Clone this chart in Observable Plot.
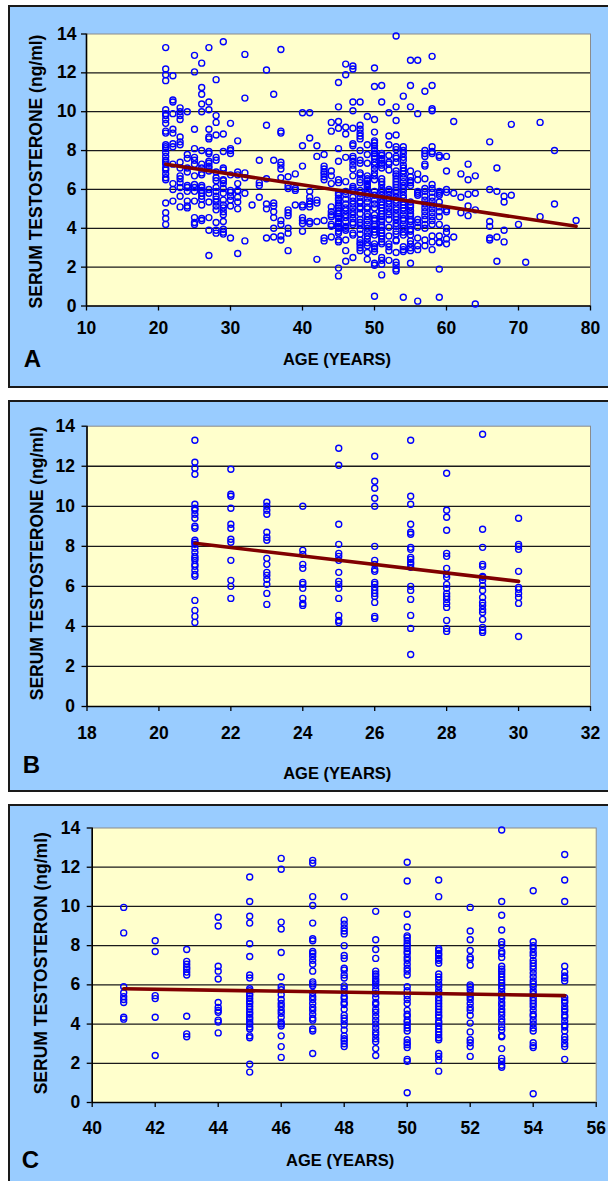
<!DOCTYPE html>
<html><head><meta charset="utf-8">
<script src="https://cdn.jsdelivr.net/npm/d3@7"></script>
<script src="https://cdn.jsdelivr.net/npm/@observablehq/plot@0.6"></script>
<style>
html,body{margin:0;padding:0;background:#fff;width:608px;height:1181px;overflow:hidden;position:relative;}
.panel{position:absolute;left:8px;border:2px solid #1a1a1a;background:#99ccff;width:606px;overflow:hidden;}
.panel svg{display:block;}
</style></head><body>
<div id="pA" class="panel" style="top:5px;height:379px"></div>
<div id="pB" class="panel" style="top:400px;height:388px"></div>
<div id="pC" class="panel" style="top:804px;height:380px"></div>
<script>
// ages 21–30 (panel B, also part of panel A)
const groupB = [
  [21, [13.3, 12.2, 11.9, 11.6, 10.1, 9.9, 9.8, 9.6, 9.4, 9.0, 8.9, 8.3, 8.2, 8.1, 7.9, 7.7, 7.5, 7.4, 7.3, 7.1, 7.0, 6.8, 6.6, 6.5, 5.3, 4.8, 4.5, 4.2]],
  [22, [11.85, 10.6, 10.5, 9.9, 9.1, 8.9, 8.35, 8.2, 7.3, 6.3, 6.0, 5.4]],
  [23, [10.2, 10.0, 9.8, 9.6, 8.7, 8.45, 8.3, 7.4, 7.1, 6.7, 6.55, 6.35, 6.1, 5.65, 5.1]],
  [24, [10.0, 7.8, 7.6, 7.1, 6.9, 6.2, 6.1, 5.9, 5.4, 5.15, 5.05]],
  [25, [12.9, 12.05, 9.1, 8.1, 7.65, 7.5, 7.3, 6.7, 6.25, 6.1, 5.9, 5.4, 4.55, 4.3, 4.2]],
  [26, [12.5, 11.25, 10.9, 10.4, 10.0, 8.0, 7.3, 7.1, 6.85, 6.75, 6.2, 6.1, 5.95, 5.8, 5.65, 5.5, 5.2, 4.5, 4.4]],
  [27, [13.3, 10.5, 10.1, 9.1, 8.7, 8.6, 7.95, 7.85, 7.45, 7.35, 7.2, 7.1, 6.95, 6.0, 5.8, 5.35, 4.55, 3.9, 2.6]],
  [28, [11.65, 9.8, 9.45, 8.8, 7.65, 7.5, 6.9, 6.6, 6.45, 6.1, 5.9, 5.65, 5.5, 5.35, 5.15, 4.95, 4.3, 3.9, 3.75]],
  [29, [13.6, 8.85, 7.95, 7.1, 7.0, 6.5, 6.45, 6.3, 6.05, 5.8, 5.45, 5.2, 5.05, 4.85, 4.7, 4.35, 3.95, 3.8, 3.7]],
  [30, [9.4, 8.1, 8.0, 7.85, 6.75, 5.95, 5.85, 5.65, 5.45, 5.15, 3.5]]
];
// ages 41–55 (panel C, also part of panel A)
const groupC = [
  [41, [9.95, 8.65, 5.9, 5.6, 5.4, 5.25, 5.1, 4.35, 4.25]],
  [42, [8.25, 7.7, 5.45, 5.3, 4.35, 2.4]],
  [43, [7.8, 7.2, 7.05, 6.9, 6.8, 6.65, 6.5, 4.4, 3.5, 3.35]],
  [44, [9.45, 9.0, 6.95, 6.7, 6.3, 5.1, 4.85, 4.7, 4.6, 4.2, 4.1, 3.55]],
  [45, [11.5, 10.25, 9.5, 9.15, 8.1, 7.45, 6.5, 6.35, 5.8, 5.7, 5.55, 5.45, 5.3, 5.15, 5.05, 4.9, 4.75, 4.6, 4.5, 4.35, 4.25, 4.1, 4.0, 3.85, 3.75, 3.4, 3.3, 1.95, 1.55]],
  [46, [12.45, 11.9, 9.2, 8.85, 7.65, 6.4, 5.9, 5.75, 5.5, 5.25, 5.05, 4.9, 4.7, 4.55, 4.35, 4.1, 4.0, 3.9, 3.4, 2.85, 2.3]],
  [47, [12.35, 12.2, 10.5, 10.05, 9.15, 8.35, 8.25, 7.7, 7.6, 7.45, 7.25, 7.05, 6.7, 6.15, 6.05, 5.95, 5.6, 5.4, 5.25, 5.05, 4.85, 4.7, 4.5, 4.3, 4.2, 3.75, 3.65, 2.5]],
  [48, [10.5, 9.3, 9.1, 8.9, 8.75, 8.6, 8.0, 7.5, 7.35, 6.85, 6.75, 6.5, 6.35, 5.95, 5.8, 5.6, 5.4, 5.3, 5.1, 5.0, 4.75, 4.45, 4.3, 4.15, 3.95, 3.7, 3.4, 3.25, 3.15, 3.0, 2.85]],
  [49, [9.75, 8.3, 7.8, 7.35, 6.7, 6.55, 6.45, 6.3, 6.2, 6.1, 5.95, 5.75, 5.55, 5.35, 5.1, 5.0, 4.75, 4.6, 4.4, 4.2, 4.0, 3.8, 3.6, 3.45, 3.25, 3.1, 2.75, 2.4]],
  [50, [12.25, 11.3, 9.6, 8.95, 8.5, 8.4, 8.25, 8.1, 8.0, 7.85, 7.7, 7.6, 7.4, 7.25, 7.05, 6.85, 6.7, 6.5, 5.9, 5.7, 5.45, 5.25, 5.05, 4.7, 4.5, 4.4, 4.2, 4.1, 3.95, 3.8, 3.65, 3.2, 3.05, 2.95, 2.8, 2.2, 2.1, 0.5]],
  [51, [11.35, 10.5, 7.85, 7.75, 7.6, 7.5, 7.35, 7.25, 7.1, 6.55, 6.4, 6.25, 6.05, 5.9, 5.7, 5.55, 5.35, 5.2, 5.05, 4.9, 4.75, 4.6, 4.45, 4.35, 4.15, 4.05, 3.9, 3.75, 3.6, 3.45, 3.3, 3.2, 2.5, 2.35, 2.15, 1.6]],
  [52, [9.95, 8.75, 8.3, 7.75, 7.4, 7.3, 7.0, 6.0, 5.9, 5.75, 5.55, 5.4, 5.25, 5.05, 4.85, 4.7, 4.45, 4.05, 3.6, 3.2, 3.05, 2.85, 2.35]],
  [53, [13.9, 10.25, 9.55, 8.8, 8.2, 8.05, 7.7, 7.6, 7.4, 6.95, 6.8, 6.7, 6.55, 6.4, 6.25, 6.1, 5.95, 5.8, 5.6, 5.45, 5.3, 5.1, 4.95, 4.75, 4.6, 4.45, 4.25, 4.1, 3.85, 3.7, 3.4, 3.35, 2.75, 2.25, 2.1, 1.9, 1.8]],
  [54, [10.8, 8.2, 8.0, 7.85, 7.65, 7.5, 7.25, 7.1, 6.95, 6.8, 6.6, 6.4, 6.2, 6.05, 5.9, 5.7, 5.55, 5.35, 5.2, 5.05, 4.9, 4.7, 4.5, 4.4, 4.2, 4.0, 3.8, 3.65, 3.05, 2.9, 2.8, 0.45]],
  [55, [12.65, 11.35, 10.25, 6.95, 6.65, 6.45, 6.35, 6.2, 5.35, 5.2, 5.1, 4.9, 4.75, 4.65, 4.45, 4.35, 4.15, 3.95, 3.85, 3.65, 3.35, 3.2, 3.0, 2.85, 2.2]]
];
// remaining ages shown only in panel A
const groupOther = [
  [31, [8.5, 6.9, 6.75, 6.3, 5.95, 5.9, 5.6, 5.35, 5.0, 2.7]],
  [32, [12.95, 10.7, 6.85, 6.6, 5.8, 3.35]],
  [33, [5.2]],
  [34, [7.5, 6.35, 6.2, 5.6]],
  [35, [12.15, 9.3, 6.55, 5.25, 5.0, 3.5]],
  [36, [10.9, 7.5, 5.3, 5.15, 4.85, 4.55, 4.0, 3.55]],
  [37, [13.2, 9.0, 8.9, 7.4, 7.25, 7.05, 6.6, 4.4, 4.2, 3.6, 3.4]],
  [38, [6.65, 6.2, 6.05, 4.95, 4.8, 4.65, 4.0, 3.75, 2.85]],
  [39, [6.8, 6.05, 5.95, 5.2]],
  [40, [9.95, 8.25, 7.2, 5.2, 5.1, 4.55, 4.4, 4.25, 3.85]],
  [56, [12.65, 9.9, 6.8, 6.5, 5.9, 5.8, 5.7, 4.45, 4.3, 4.05, 3.5, 3.1, 2.9, 0.25]],
  [57, [11.05, 8.0, 7.85, 7.7, 7.3, 7.2, 6.55, 6.05, 5.9, 5.65, 5.45, 5.25, 5.05, 4.85, 4.65, 4.45, 4.2, 4.0, 3.4, 3.1]],
  [58, [12.85, 11.35, 10.15, 10.05, 8.2, 7.95, 7.85, 6.25, 6.05, 5.85, 5.6, 5.4, 5.2, 5.0, 4.8, 4.6, 4.4, 4.2, 3.6, 3.3, 2.9]],
  [59, [7.75, 7.65, 5.9, 5.8, 5.7, 5.35, 5.1, 4.85, 4.6, 4.2, 3.6, 3.3, 3.25, 1.9, 0.45]],
  [60, [7.7, 6.95, 6.0, 5.85, 4.95, 4.85, 4.0, 3.8, 3.45, 3.2]],
  [61, [9.5, 5.8, 3.55]],
  [62, [6.8, 5.6, 4.8]],
  [63, [7.3, 6.5, 5.75, 5.15, 4.65]],
  [64, [6.7, 5.8, 4.95, 0.1]],
  [66, [8.45, 6.0, 4.35, 4.1, 3.5, 3.4]],
  [67, [7.1, 5.9, 3.55, 2.3]],
  [68, [5.65, 5.35, 3.9, 3.3]],
  [69, [9.35, 5.7]],
  [70, [4.2]],
  [71, [2.25]],
  [73, [9.45, 4.6]],
  [75, [8.0, 5.25]],
  [78, [4.4]]
];
// regression lines [age, testosterone]
const trendA = [[21, 7.3], [78, 4.1]];
const trendB = [[21, 8.15], [30, 6.25]];
const trendC = [[41, 5.8], [55, 5.45]];
// ticks
const xTicksA = [10, 20, 30, 40, 50, 60, 70, 80];
const xTicksB = [18, 20, 22, 24, 26, 28, 30, 32];
const xTicksC = [40, 42, 44, 46, 48, 50, 52, 54, 56];
const yTicks = [0, 2, 4, 6, 8, 10, 12, 14];
const gridValues = [2, 4, 6, 8, 10, 12];
// texts
const xTitle = "AGE (YEARS)";
const yTitleAB = "SERUM TESTOSTERONE (ng/ml)";
const yTitleC = "SERUM TESTOSTERON (ng/ml)";
const panelLetters = ["A", "B", "C"];

const flat = g => g.flatMap(([age, vals]) => vals.map(v => ({age, t: v})));
const dataB = flat(groupB);
const dataC = flat(groupC);
const dataA = flat(groupB).concat(flat(groupOther), flat(groupC));

const FONT = "'Liberation Sans', Arial, Helvetica, sans-serif";

function panel(cfg) {
  const {data, trend, xDomain, xTicks, yTitle, letter, width, height, mL, mR, mT, mB,
         xPad, yPad, xTitleDy, xTitleDx, yTitleDx, yTitleDy, letterDx, letterDy} = cfg;
  return Plot.plot({
    width, height,
    marginLeft: mL, marginRight: mR, marginTop: mT, marginBottom: mB,
    style: {background: "transparent", fontFamily: FONT, color: "#000", overflow: "visible"},
    x: {domain: xDomain},
    y: {domain: [0, 14]},
    marks: [
      Plot.frame({fill: "#ffffcc", stroke: "#8c8c8c", strokeWidth: 1}),
      Plot.ruleY(gridValues, {stroke: "#1a1a1a", strokeWidth: 1.3}),
      Plot.ruleX([xDomain[0]], {stroke: "#000", strokeWidth: 1.6}),
      Plot.ruleY([0], {stroke: "#000", strokeWidth: 1.6}),
      Plot.axisX({ticks: xTicks, tickSize: 5, tickPadding: xPad, tickFormat: d => String(d),
                  fontSize: 17.5, fontWeight: "bold", label: null, stroke: "#000", strokeWidth: 1.3}),
      Plot.axisY({ticks: yTicks, tickSize: 5, tickPadding: yPad, tickFormat: d => String(d),
                  fontSize: 17.5, fontWeight: "bold", label: null, stroke: "#000", strokeWidth: 1.3}),
      Plot.dot(data, {x: "age", y: "t", r: 3, stroke: "#0000ff", strokeWidth: 1.4, fill: "none"}),
      Plot.line(trend, {x: d => d[0], y: d => d[1], stroke: "#800000", strokeWidth: 3.6}),
      Plot.text([xTitle], {text: d => d, frameAnchor: "bottom", dx: xTitleDx, dy: xTitleDy,
                  textAnchor: "middle", lineAnchor: "middle",
                  fontSize: 16.5, fontWeight: "bold", fill: "#000"}),
      Plot.text([yTitle], {text: d => d, frameAnchor: "left", dx: yTitleDx, dy: yTitleDy, rotate: -90,
                  textAnchor: "middle", lineAnchor: "middle",
                  fontSize: 17.5, fontWeight: "bold", fill: "#000"}),
      Plot.text([letter], {text: d => d, frameAnchor: "bottom-left", dx: letterDx, dy: letterDy,
                  textAnchor: "middle", lineAnchor: "middle",
                  fontSize: 24, fontWeight: "bold", fill: "#000"})
    ]
  });
}

document.getElementById("pA").append(panel({
  data: dataA, trend: trendA, xDomain: [10, 80], xTicks: xTicksA, yTitle: yTitleAB, letter: panelLetters[0],
  width: 606, height: 379, mL: 76, mR: 26, mT: 26.5, mB: 80.5,
  xPad: 11, yPad: 5, xTitleDx: -1.5, xTitleDy: 53.5, yTitleDx: -50, yTitleDy: 1.5, letterDx: -54, letterDy: 53.5
}));
document.getElementById("pB").append(panel({
  data: dataB, trend: trendB, xDomain: [18, 32], xTicks: xTicksB, yTitle: yTitleAB, letter: panelLetters[1],
  width: 606, height: 388, mL: 76.5, mR: 26, mT: 23.7, mB: 84,
  xPad: 15, yPad: 7, xTitleDx: -1.5, xTitleDy: 67, yTitleDx: -50, yTitleDy: -3, letterDx: -55.5, letterDy: 59
}));
document.getElementById("pC").append(panel({
  data: dataC, trend: trendC, xDomain: [40, 56], xTicks: xTicksC, yTitle: yTitleC, letter: panelLetters[2],
  width: 606, height: 380, mL: 81.7, mR: 20.3, mT: 21.5, mB: 84,
  xPad: 14, yPad: 7, xTitleDx: -4, xTitleDy: 58.7, yTitleDx: -51, yTitleDy: -2, letterDx: -61.7, letterDy: 58
}));
</script>
</body></html>
